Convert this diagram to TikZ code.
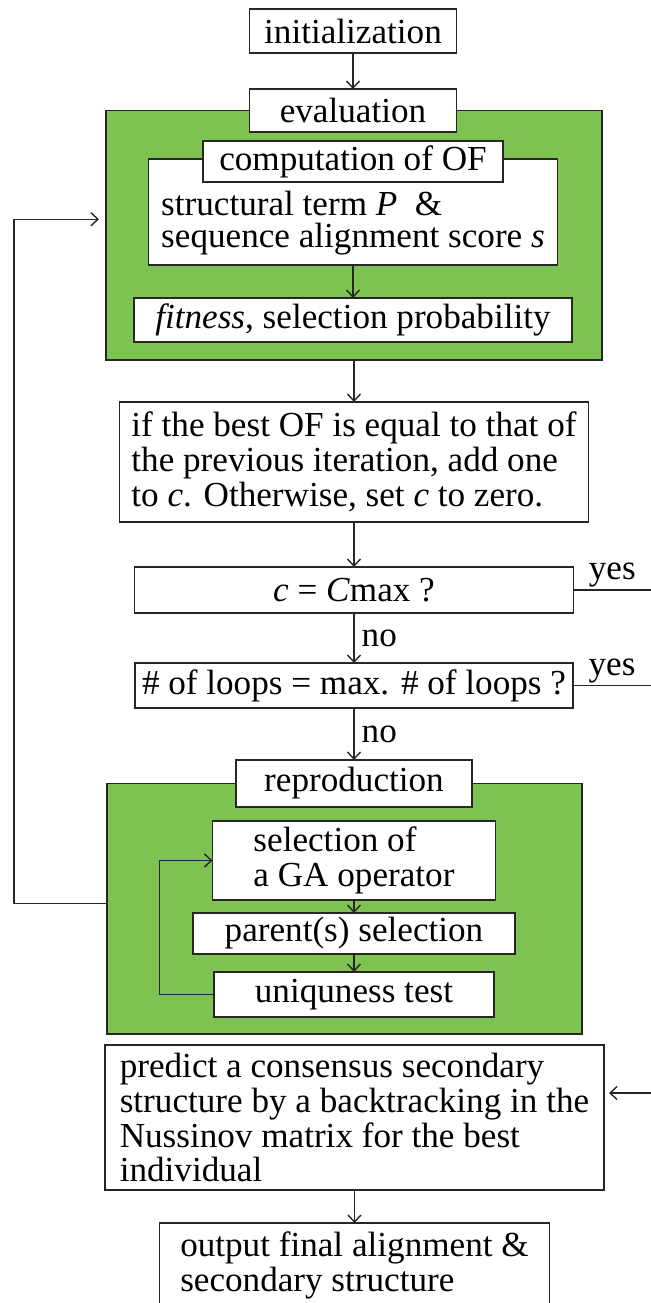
\documentclass[tikz,border=0pt]{standalone}
\usepackage{fontspec}
\setmainfont{Liberation Serif}
\usetikzlibrary{calc,positioning,fit,backgrounds,arrows.meta}
\definecolor{leafgreen}{RGB}{126,195,82}

\begin{document}
\begin{tikzpicture}[
                node distance=0.5cm,
                every node/.append style={font=\fontsize{20}{19.9}\selectfont},
                box/.style={draw=black!85,fill=white,line width=0.8pt,inner sep=0pt,outer sep=0pt},
                greenbox/.style={draw=black!85,fill=leafgreen,line width=0.8pt,inner sep=0pt,outer sep=0pt},
                flow/.style={->,draw=black!85,line width=0.8pt},
                plain/.style={draw=black!85,line width=0.8pt},
                >={Straight Barb[length=0.14cm,width=0.26cm]}
            ]
                \useasboundingbox (-7.06,0.62) rectangle (5.96,-25.44);
                \node (init)      [box,minimum width=4.14cm,minimum height=0.88cm]                       {initialization};
                \node (eval)      [box,minimum width=4.14cm,minimum height=0.86cm,below=0.72cm of init]  {evaluation};
                \node (comp)      [box,minimum width=8.18cm,minimum height=2.12cm,below=0.54cm of eval]  {};
                \node (comptext)  [align=left,font=\fontsize{20}{18.2}\selectfont] at ($(comp.center)+(0,-0.22)$)
                                  {structural term \textit{P}\ \ \&\\sequence alignment score \textit{s}};
                \node (complabel) [box,minimum width=6cm,minimum height=0.82cm] at ($(comp.north)+(0,-0.05)$) {computation of OF};
                \node (fitness)   [box,minimum width=8.76cm,minimum height=0.88cm,below=0.66cm of comp]
                                  {\textit{fitness}, selection probability};
                \begin{scope}[on background layer]
                    \node (evalbg) [greenbox,fit={($(eval.center)+(-4.94,0)$) ($(fitness.south)+(4.98,-0.36)$)}] {};
                \end{scope}
                \node (ifbox)     [box,align=left,minimum width=9.38cm,minimum height=2.4cm,below=0.84cm of evalbg]
                                  {if the best OF is equal to that of\\the previous iteration, add one\\to \textit{c}. Otherwise, set \textit{c} to zero.};
                \node (cmax)      [box,minimum width=8.78cm,minimum height=0.92cm,below=0.9cm of ifbox]  {\textit{c} = \textit{C}max ?};
                \node (loops)     [box,minimum width=8.76cm,minimum height=0.9cm,below=1.0cm of cmax]    {\# of loops = max. \# of loops ?};
                \node (repro)     [box,minimum width=4.72cm,minimum height=0.94cm,below=1.04cm of loops] {reproduction};
                \node (select)    [box,align=left,minimum width=5.66cm,minimum height=1.58cm,below=0.28cm of repro]
                                  {selection of\\a GA operator};
                \node (parent)    [box,minimum width=6.44cm,minimum height=0.82cm,below=0.26cm of select] {parent(s) selection};
                \node (uniq)      [box,minimum width=5.6cm,minimum height=0.9cm,below=0.36cm of parent]   {uniquness test};
                \begin{scope}[on background layer]
                    \node (reprobg) [greenbox,fit={($(repro.center)+(-4.94,0)$) ($(uniq.south)+(4.56,-0.34)$)}] {};
                \end{scope}
                \node (predict)   [box,align=left,minimum width=9.98cm,minimum height=2.9cm,below=0.22cm of reprobg,xshift=0.2cm]
                                  {predict a consensus secondary\\structure by a backtracking in the\\Nussinov matrix for the best\\individual};
                \node (output)    [box,align=left,minimum width=7.8cm,minimum height=1.68cm,below=0.66cm of predict]
                                  {output final alignment \&\\secondary structure};
                \coordinate (edge) at (5.96,0);
                \coordinate (back) at ($(evalbg.west)+(-1.84,0.32)$);
                \coordinate (ret)  at ($(predict.east)+(0.1,0.49)$);
                \draw[flow] (init) -- (eval);
                \draw[flow] (comp) -- (fitness);
                \draw[flow] (evalbg) -- (ifbox);
                \draw[flow] (ifbox) -- (cmax);
                \draw[flow] (cmax) -- node (no1) [right,inner sep=0.14cm] {no} (loops);
                \draw[flow] (loops) -- node (no2) [right,inner sep=0.14cm] {no} (repro);
                \draw[flow] (select) -- (parent);
                \draw[flow] (parent) -- (uniq);
                \draw[flow] (uniq.west) -| ($(select.west)+(-1.06,0)$) -- (select.west);
                \draw[flow] ($(reprobg.west)+(0,0.1)$) -| (back) -- ($(evalbg.west)+(-0.14,0.32)$);
                \draw[plain] (cmax.east) -- node (yes1) [above,inner sep=0.04cm] {yes} (cmax.east -| edge);
                \draw[plain] (loops.east) -- node (yes2) [above,inner sep=0.04cm] {yes} (loops.east -| edge);
                \draw[flow] (ret -| edge) -- (ret);
                \draw[flow] (predict) -- (output);
            \end{tikzpicture}
\end{document}
